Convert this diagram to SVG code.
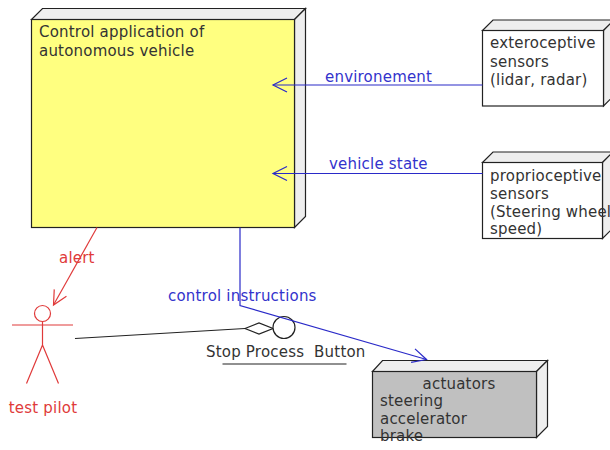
<svg xmlns="http://www.w3.org/2000/svg" width="610" height="450" viewBox="0 0 610 450">
<style>
  text { font-family: "DejaVu Sans", "Liberation Sans", sans-serif; font-size: 15px; fill: #333333; letter-spacing: 0.2px; white-space: pre; }
  .face { stroke: #222222; stroke-width: 1.2; }
  .side { fill: #eeeeee; }
  .blue { stroke: #2a2ac8; stroke-width: 1.2; fill: none; }
  .red { stroke: #e03a3a; stroke-width: 1.2; fill: none; }
  .btext { fill: #3333cc; }
  .rtext { fill: #e03a3a; }
</style>
<defs>
  <marker id="arrB" markerUnits="userSpaceOnUse" markerWidth="30" markerHeight="30" refX="0" refY="0" viewBox="-20 -15 30 30" orient="auto" overflow="visible">
    <path d="M-14,-7 L0,0 L-14,7" fill="none" stroke="#2a2ac8" stroke-width="1.2"/>
  </marker>
  <marker id="arrR" markerUnits="userSpaceOnUse" markerWidth="30" markerHeight="30" refX="0" refY="0" viewBox="-20 -15 30 30" orient="auto" overflow="visible">
    <path d="M-14,-7 L0,0 L-14,7" fill="none" stroke="#e03a3a" stroke-width="1.2"/>
  </marker>
</defs>

<g id="control-app">
  <polygon class="face side" points="31.5,19.5 42.5,8.5 305.5,8.5 294.5,19.5"/>
  <polygon class="face side" points="294.5,19.5 305.5,8.5 305.5,216.5 294.5,227.5"/>
  <rect class="face" x="31.5" y="19.5" width="263" height="208" fill="#ffff80"/>
  <text x="39" y="37">Control application of</text>
  <text x="39" y="56">autonomous vehicle</text>
</g>

<g id="exteroceptive">
  <polygon class="face side" points="482.5,30.5 493,20 614,20 603.5,30.5"/>
  <polygon class="face side" points="603.5,30.5 614,20 614,95.5 603.5,106"/>
  <rect class="face" x="482.5" y="30.5" width="121" height="75.5" fill="#ffffff"/>
  <text x="490" y="48">exteroceptive</text>
  <text x="490" y="66.5">sensors</text>
  <text x="490" y="85">(lidar, radar)</text>
</g>

<g id="proprioceptive">
  <polygon class="face side" points="482.5,162.5 493,152 613,152 602.5,162.5"/>
  <polygon class="face side" points="602.5,162.5 613,152 613,228 602.5,238.5"/>
  <rect class="face" x="482.5" y="162.5" width="120" height="76" fill="#ffffff"/>
  <text x="490" y="181">proprioceptive</text>
  <text x="490" y="199">sensors</text>
  <text x="490" y="216.5">(Steering wheel</text>
  <text x="490" y="234">speed)</text>
</g>

<g id="actuators">
  <polygon class="face side" points="372.5,371.5 382.5,360.5 547.5,360.5 536.5,371.5"/>
  <polygon class="face side" points="536.5,371.5 547.5,360.5 547.5,426.5 536.5,437.5"/>
  <rect class="face" x="372.5" y="371.5" width="164" height="66" fill="#c0c0c0"/>
  <text x="459" y="389" text-anchor="middle">actuators</text>
  <text x="380" y="406">steering</text>
  <text x="380" y="423.5">accelerator</text>
  <text x="380" y="441">brake</text>
</g>

<g id="test-pilot">
  <circle cx="42.5" cy="313.5" r="8" fill="none" stroke="#e03a3a" stroke-width="1.2"/>
  <path class="red" d="M12,325 H73 M42.5,321.5 V345 M42.5,345 L26.5,383.5 M42.5,345 L58.5,383.5"/>
  <text class="rtext" x="43" y="412.5" text-anchor="middle">test pilot</text>
</g>

<g id="stop-button">
  <polygon points="245,328.5 259,323 273,328.5 259,334" fill="#ffffff" stroke="#222222" stroke-width="1.2"/>
  <circle cx="284" cy="327.5" r="11" fill="#ffffff" stroke="#222222" stroke-width="1.2"/>
  <text x="206" y="356.5" xml:space="preserve">Stop Process  Button</text>
  <line x1="222.5" y1="364" x2="346.5" y2="364" stroke="#222222" stroke-width="1.2"/>
</g>

<g id="connectors">
  <line class="blue" x1="482.5" y1="85" x2="273" y2="85" marker-end="url(#arrB)"/>
  <text class="btext" x="325" y="81.5">environement</text>
  <line class="blue" x1="482.5" y1="173.5" x2="273" y2="173.5" marker-end="url(#arrB)"/>
  <text class="btext" x="329" y="168.5">vehicle state</text>
  <line class="red" x1="97" y1="227.5" x2="53.5" y2="305" marker-end="url(#arrR)"/>
  <text class="rtext" x="59" y="262.5">alert</text>
  <polyline class="blue" points="240,227.5 240,305.5 426.5,359.5" marker-end="url(#arrB)"/>
  <text class="btext" x="168" y="301">control instructions</text>
  <line x1="75" y1="338.5" x2="245" y2="328.5" stroke="#222222" stroke-width="1.2"/>
</g>
</svg>
